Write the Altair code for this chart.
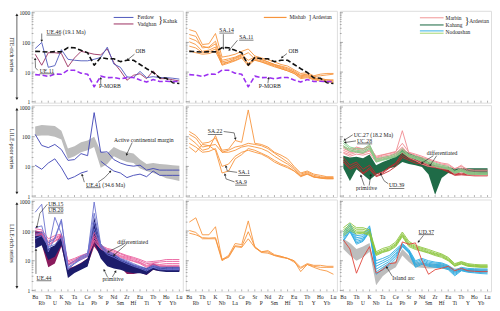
import math
import altair as alt
import pandas as pd

FONT = "Liberation Serif"
ELEMENTS = ["Ba", "Rb", "Th", "U", "K", "Nb", "Ta", "La", "Ce", "Pb", "Sr", "P",
            "Nd", "Sm", "Zr", "Hf", "Eu", "Ti", "Tb", "Y", "Ho", "Yb", "Lu"]
N = len(ELEMENTS)
ROW_TITLES = ["ITE-rich series", "LILE-poor series", "LILE-rich series"]
Y_TICK_LABELS = [1, 10, 100, 1000]

# ---------------- reference patterns ----------------
OIB = [50, 49, 47, 49, 48, 67, 66, 54, 45, 17, 31, 28, 28, 22.5, 25, 25, 18, 13, 9.7, 6.4, 6.2, 4.4, 4.1]
PMORB = [8.2, 7.9, 7.1, 8.6, 8.4, 11.6, 11.5, 9.2, 8.5, 3.2, 7.3, 6.5, 6.6, 5.9, 6.5, 6.6, 5.4, 4.6, 5.6, 4.8, 4.9, 4.8, 4.8]

# ---------------- row 1 : ITE-rich ----------------
FERDOW_UE46 = [62, 100, 14.5, 16.5, 57, 27, 25, 24, 24, 27, 31, 69, 18.7, 14.5, 6.9, 6.5, 10.5, 6.5, 7, 6.5, 6.5, 6.2, 5.8]
VADGHAN_UE11 = [40, 17, 45, 45, 42, 15, 30, 50, 45, 40, 38, 60, 21, 11, 5.3, 7.8, 8.8, 6, 11, 6, 6, 5.5, 5]
MISHAB_ITE = {
    "o1": [270, 230, 85, 90, 200, 32, 35, 40, 50, 60, 35, 30, 26, 22, 18, 16, 12, 9, 9.5, 7.5, 8.5, 9, 9],
    "o2": [185, 160, 65, 70, 110, 25, 28, 32, 40, 18, 30, 28, 22, 18, 16, 14, 11, 8, 8.5, 7, 7.5, 8, 8.5],
    "o3": [140, 115, 75, 65, 90, 20, 22, 28, 35, 45, 28, 24, 20, 17, 14, 12, 10, 7, 7.5, 6, 6, 5.5, 5.5],
    "o4": [105, 85, 50, 55, 70, 17, 20, 24, 30, 16, 26, 22, 18, 15, 13, 11, 9, 6.5, 7, 5.8, 5.5, 5, 5],
    "o5": [75, 65, 45, 48, 60, 22, 25, 30, 38, 25, 32, 26, 22, 18, 15, 13, 10, 7.5, 8, 6.5, 6, 5.5, 5],
    "o6": [52, 45, 40, 42, 50, 18, 22, 25, 32, 20, 25, 22, 19, 16, 13, 11, 9, 6, 6.5, 5.5, 5, 4.6, 4.5],
}

# ---------------- row 2 : LILE-poor ----------------
ACM_LO = [105, 110, 110, 100, 80, 18, 22, 30, 35, 45, 9, 12, 22, 17, 14, 13, 8.5, 7, 6, 5, 4, 3.6, 3.2]
ACM_HI = [220, 250, 240, 230, 160, 40, 48, 65, 75, 100, 32, 28, 45, 35, 30, 27, 17, 12, 13, 12, 11.5, 11, 10.5]
KAHAK_LP = {
    "upper": [120, 51, 43, 55, 37, 16, 17, 27, 23, 650, 30, 31, 17, 13, 11, 10.2, 11, 7.5, 8.5, 7.5, 7.5, 7.5, 7.5],
    "ue41": [11, 8, 13, 18, 9, 3.7, 4.5, 6, 7, None, 15, 10, 7, 6, 4.2, 5, 5.5, 4.5, 7, 5, 5, 5, 5],
}
MISHAB_LP = {
    "sa22": [150, 110, 60, 65, 90, 35, 38, 75, 65, 800, 60, 55, 45, 30, 24, 18, 10, 6, 7, 5.5, 5, 4.5, 4.5],
    "b": [120, 90, 45, 50, 55, 30, 35, 45, 50, 60, 55, 50, 40, 28, 20, 14, 9, 5.5, 6.5, 5, 4.5, 4.2, 4.2],
    "c": [90, 60, 35, 40, 110, 30, 30, 35, 45, 50, 45, 40, 32, 22, 16, 12, 8, 5, 6, 4.5, 4.2, 4, 4],
    "sa1": [60, 45, 30, 32, 40, 10, 12, 22, 30, 35, 30, 26, 20, 14, 11, 9, 7, 4.5, 5.5, 4.5, 4, 3.8, 3.8],
    "sa9": [45, 30, 55, 50, 35, 6, 7, 18, 25, 40, 35, 28, 22, 16, 12, 10, 7, 4.8, 5.5, 4.3, 4.1, 4, 3.9],
}
KAHANG_TOP = [23, 20, 21, 19, 25, 11, 14, 17, 22, 37, 29, 23, 20, 14, 11, 10, 9.5, 8.5, 8.7, 8.7, 8.7, 8.7, 8.7]
KAHANG_BOT = [8.7, 3.2, 8, 5.3, 3.5, 5.3, 6.8, 8.7, 9.8, 14, 12, 11, 9.5, 5.3, 1.1, 4.1, 6, 5.3, 6.8, 5.3, 5.3, 5.3, 5.3]
MARBIN_DIFF = {
    "m1": [45, 38, 42, 40, 45, 22, 25, 27, 30, 160, 28, 24, 20, 17, 14, 12, 11, 8, 11, 7, 7, 7, 7],
    "m2": [40, 32, 38, 35, 40, 19, 22, 24, 28, 45, 25, 21, 18, 15, 12, 11, 10, 6.5, 9, 6.5, 6.2, 6, 6],
    "m3": [35, 28, 33, 30, 35, 17, 20, 22, 26, 40, 23, 19, 16, 13, 11, 10, 9, 6, 8, 6, 5.8, 5.5, 5.5],
    "m4": [30, 25, 30, 27, 33, 16, 19, 20, 24, 38, 22, 18, 14, 11, 10, 9, 8.5, 6, 7.5, 5.5, 5.5, 5.2, 5.2],
    "m5": [50, 30, 45, 38, 50, 20, 24, 28, 32, 60, 30, 26, 22, 18, 15, 13, 12, 8.5, 10, 8, 7.5, 7.5, 7.5],
    "m6": [28, 22, 26, 24, 28, 14, 17, 19, 22, 30, 20, 16, 12, 10, 9.5, 8.5, 8, 5.5, 7, 5.2, 5, 5, 5],
}
MARBIN_PRIM = {
    "r1": [16, 9, 12, 6, 9, 4.8, 6, 8.7, 12, 23, 18, 15, 13, 11, 10, 8.5, 7, 5.3, 5.5, 5.3, 5, 5, 5],
    "r2": [20, 11, 14, 8, 11, 5.5, 6.5, 9.5, 13, 28, 20, 16, 14, 11.5, 10, 9, 7.5, 5.5, 6, 5.5, 5.2, 5.2, 5.2],
    "ud39": [14, 8, 10, 5.5, 8, 4.5, 5.5, 7, 10, 20, 16, 13, 12, 10, 9, 8, 6.5, 5, 5.2, 5, 4.8, 4.8, 4.8],
}
KAHANG_LINES = {
    "uc27": [70, 45, 40, 38, 55, 18, 20, 22, 27, 40, 25, 22, 19, 16, 13, 11, 10, 7, 8, 6.5, 6.2, 6, 6],
    "uc28": [60, 40, 35, 33, 48, 16, 18, 20, 24, 35, 23, 20, 17, 14, 12, 10, 9, 6.5, 7.5, 6, 6, 6, 6],
    "g3": [50, 36, 32, 30, 42, 15, 17, 19, 22, 32, 22, 19, 16, 13, 11, 9.5, 8.5, 6, 7, 5.8, 5.5, 5.5, 5.5],
    "g4": [45, 33, 30, 28, 38, 14, 16, 18, 21, 30, 21, 18, 15, 12, 10, 9, 8, 6, 6.8, 5.5, 5.5, 5.3, 5.3],
}

# ---------------- row 3 : LILE-rich ----------------
NAVY_LO = [26, 33, 10.7, 13.7, 33, 2.6, 3.9, 5, 6.4, 43, 12, 6.5, 5.5, 5, 4.2, 3.8, 3.8, 3.4, 5, 4.4, 4.2, 4.2, 4.2]
NAVY_HI = [105, 93, 26, 33, 81, 5, 6.4, 8.2, 12, 290, 38, 20, 18, 12, 9.4, 7.3, 6.4, 5.6, 8.2, 6.4, 6.4, 6.4, 6.4]
MAROON_LO = [40, 35, 6, 8, 30, 3.5, 4.5, 5.5, 7, 30, 15, 9, 8, 6, 3.6, 3.6, 4, 3.3, 5, 4.5, 4.5, 4.5, 4.5]
MAROON_HI = [90, 80, 14, 18, 60, 5.5, 6.5, 8.5, 12, 90, 30, 17, 14, 10, 7, 6, 6, 5, 7.5, 6, 6, 6, 6]
KAHAK_LR_PINK = {
    "p1": [120, 110, 55, 70, 80, 10, 12, 15, 18, 90, 33, 26, 23, 18, 15, 13, 11, 9, 9.5, 10, 11, 11, 11],
    "p2": [100, 95, 45, 60, 75, 9, 11, 14, 17, 70, 30, 24, 21, 17, 14, 12, 10, 8, 8.5, 9, 9.5, 9.5, 9.5],
    "p3": [85, 85, 40, 55, 70, 8, 10, 13, 16, 60, 28, 22, 19, 15, 13, 11, 9, 7, 8, 7.5, 8, 8, 8],
    "p4": [75, 80, 35, 48, 65, 7.5, 9.5, 12, 15, 50, 26, 20, 17, 14, 12, 10, 8.5, 6.5, 7.5, 7, 7, 7, 7],
    "p5": [70, 75, 33, 45, 62, 7, 9, 11, 14, 45, 25, 19, 16, 13, 11, 9.5, 8, 6, 7, 6.5, 6.5, 6.5, 6.5],
}
KAHAK_LR_BLUE = {
    "ub15": [430, 800, 20, 60, 250, 5, 8, 12, 15, 950, 35, 22, 17, 12, 10, 8, 6.5, 5.5, 7, 6, 6, 6, 6],
    "ub20": [130, 150, 25, 290, 80, 6, 8.5, 13, 16, 400, 33, 20, 16, 11, 9, 7.5, 6, 5, 6.5, 6, 5.5, 5.5, 5.5],
    "b3": [70, 95, 40, 55, 220, 7, 10, 14, 18, 200, 30, 18, 15, 11, 9, 7, 6, 5, 6, 5.5, 5, 5, 5],
    "b4": [55, 70, 30, 35, 60, 5.5, 8, 11, 14, 120, 28, 16, 13, 10, 8, 6.5, 5.5, 4.5, 6, 5, 5, 5, 5],
}
MISHAB_LR = {
    "l1": [200, 280, 75, 75, 140, 11, 15, 38, 35, 220, 28, 20, 22, 16, 14, 12, 10, 6, 8, 7, 7, 6.5, 6.5],
    "l2": [105, 90, 55, 55, 55, 10, 14, 32, 30, 95, 30, 20, 20, 15, 14, 12, 10, 4.3, 7.5, 6.5, 6, 6, 6],
    "l3": [85, 75, 60, 58, 60, 11, 13, 30, 28, 55, 28, 19, 18, 15, 13, 12, 9, 5.5, 7.5, 6, 5, 4.5, 3.5],
}
ISLAND_LO = [25, 15, 10, 13, 20, 1.5, 3, 4.5, 6, 15, 9, 6, 5.8, 5.5, 5.6, 5.6, 5, 4, 4.5, 4.3, 4.3, 4.2, 4.2]
ISLAND_HI = [55, 40, 25, 30, 40, 3.5, 6, 7.5, 10, 25, 15, 9, 8.5, 8, 8, 7.8, 7, 5.5, 5.6, 5.3, 5.3, 5.2, 5.2]
NOD_BLUE = {
    "nb1": [90, 180, 70, 75, 150, 10, 12, 15, 24, 38, 24, 10, 12, 10, 9, 8.5, 7, 4.8, 6, 5.5, 5.4, 5.3, 5.3],
    "nb2": [75, 150, 60, 65, 130, 8, 10, 13, 21, 36, 22, 9, 11, 9, 8.3, 8, 6.5, 4.4, 5.6, 5.1, 5, 4.9, 4.9],
    "nb3": [65, 125, 52, 58, 115, 6.5, 8.5, 11, 18, 34, 21, 8, 10, 8.2, 7.5, 7.3, 6, 4, 5.3, 4.8, 4.7, 4.6, 4.5],
    "nb4": [57, 110, 45, 52, 105, 5.2, 7, 9.5, 16, 32, 20, 7.2, 9, 7.5, 7, 6.8, 5.6, 3.7, 5, 4.5, 4.4, 4.3, 4.2],
    "nb5": [50, 100, 40, 48, 100, 4.2, 6, 8.3, 14, 31, 19, 6.5, 8.3, 7, 6.5, 6.3, 5.3, 3.4, 4.8, 4.3, 4.1, 4, 3.9],
    "nb6": [45, 95, 36, 45, 95, 3.5, 5, 7, 12, 30, 18, 6, 7.6, 6.5, 6, 5.8, 5, 3.1, 4.6, 4.1, 3.9, 3.7, 3.6],
}
NOD_GREEN = {
    "ng1": [130, 190, 130, 130, 110, 20, 26, 30, 43, 93, 45, 33, 28, 24, 20, 17, 13, 8, 9.4, 8, 7.5, 7.3, 7.3],
    "ng2": [110, 160, 115, 115, 95, 18, 23, 27, 38, 82, 40, 30, 26, 22, 18, 16, 12, 7.5, 9, 7.5, 7, 6.8, 6.8],
    "ng3": [95, 140, 100, 100, 85, 17, 21, 25, 35, 75, 36, 28, 24, 20, 17, 15, 11, 7, 8.5, 7, 6.7, 6.5, 6.5],
    "ng4": [82, 120, 90, 90, 78, 16, 20, 23, 33, 70, 33, 26, 22, 19, 16, 14, 10.5, 6.8, 8, 6.8, 6.5, 6.2, 6.2],
    "ng5": [70, 105, 80, 85, 72, 15, 19, 22, 30, 65, 30, 24, 21, 18, 15, 13, 10, 6.5, 7.8, 6.5, 6.2, 6, 6],
}
UD37 = [50, 25, 3.8, 13, 30, 3.8, 5, 8, 8.5, 43, 36, 40, 10, 3.5, 5, 5.6, 6.5, 4.6, 5.5, 4.6, 4.4, 4.3, 4.3]

# ---------------- annotations (element index, value) ----------------
ANN = {
    (0, 0): dict(
        texts=[(1.73, 223, "UE.46 (19.1 Ma)"), (0.68, 11.1, "UE.11"), (15.3, 50, "OIB"), (9.72, 3.35, "P-MORB")],
        ul=[(1.73, 3.95, 177), (0.68, 2.9, 8.8)],
        arrows=[[(1.0, 200), (1.0, 112)], [(0.4, 11.5), (0.05, 14), (0.0, 28)],
                [(15.15, 40), (14.1, 26)], [(10.0, 3.9), (10.0, 6.3)]]),
    (0, 1): dict(
        texts=[(4.59, 259, "SA.14"), (7.61, 150, "SA.11"), (15.14, 51, "OIB"), (10.62, 3.27, "P-MORB")],
        ul=[(4.59, 6.8, 206), (7.61, 9.8, 119)],
        arrows=[[(5.2, 190), (5.2, 62)], [(7.35, 118), (6.1, 55)],
                [(14.9, 42), (14.13, 31)], [(12.0, 4.2), (12.1, 6.3)]]),
    (0, 2): dict(texts=[], ul=[], arrows=[]),
    (1, 0): dict(
        texts=[(12.03, 80, "Active continental margin"), (7.76, 2.42, "UE.41 (34.6 Ma)")],
        ul=[(7.76, 10.0, 1.92)],
        arrows=[[(14.8, 64), (13.94, 25)], [(7.5, 2.94), (7.16, 5.25)],
                [(9.6, 2.94), (10.6, 4.2), (11.5, 6.8)]]),
    (1, 1): dict(
        texts=[(2.83, 150, "SA.22"), (7.46, 6.24, "SA.1"), (7.0, 2.94, "SA.9")],
        ul=[(2.83, 5.05, 119), (7.46, 9.24, 4.95), (7.0, 8.78, 2.33)],
        arrows=[[(5.25, 150), (6.85, 135), (7.05, 85)], [(7.3, 6.3), (5.8, 7.0), (5.6, 10)],
                [(6.9, 3.0), (5.6, 3.8), (5.45, 5.4)]]),
    (1, 2): dict(
        texts=[(1.58, 116, "UC.27 (18.2 Ma)"), (2.08, 72.5, "UC.28"), (12.73, 27.9, "differentiated"),
               (1.93, 1.8, "primitive"), (6.96, 2.27, "UD.39")],
        ul=[(2.08, 4.4, 57.6), (6.96, 9.3, 1.8)],
        arrows=[[(1.43, 116), (0.18, 78)], [(1.93, 72.5), (0.27, 64)],
                [(13.74, 23), (11.98, 13)], [(14.24, 23), (13.23, 10.8)],
                [(3.19, 2.27), (2.68, 4.87)], [(3.94, 2.27), (4.19, 5.2)],
                [(6.85, 2.6), (6.2, 3.3), (5.69, 5.6)]]),
    (2, 0): dict(
        texts=[(1.99, 798, "UB.15"), (1.99, 509, "UB.20"), (0.22, 2.67, "UE.44"),
               (12.53, 43.8, "differentiated"), (10.27, 2.35, "primitive")],
        ul=[(1.99, 4.3, 635), (1.99, 4.3, 405), (0.22, 2.48, 2.12)],
        arrows=[[(1.85, 800), (0.72, 397), (0.25, 135)], [(0.12, 3.6), (0.12, 23.5)],
                [(13.53, 36.9), (11.12, 19.8)], [(13.94, 36.9), (12.02, 15.4)],
                [(11.03, 2.82), (10.52, 4.9)], [(11.78, 2.82), (12.28, 4.4)]]),
    (2, 1): dict(texts=[], ul=[], arrows=[]),
    (2, 2): dict(
        texts=[(11.48, 95.5, "UD.37"), (7.46, 2.67, "Island arc")],
        ul=[(11.48, 13.83, 76)],
        arrows=[[(12.23, 72), (11.72, 52), (11.45, 43)], [(7.46, 3.03), (6.6, 6.1)]]),
}

# ---------------- geometry / scales ----------------
W, H = 153, 93
XDOM = [-0.53, 22.53]
YDOM = [0.93, 1160]
PX_X = W / (XDOM[1] - XDOM[0])
PX_DEC = H / math.log10(YDOM[1] / YDOM[0])

XS = alt.Scale(domain=XDOM, nice=False, zero=False)
YS = alt.Scale(type="log", domain=YDOM, nice=False)
YAX = alt.Axis(values=Y_TICK_LABELS, format="d", ticks=False, domain=False, grid=False,
               labelFont=FONT, labelFontSize=5.5, labelPadding=2, labelColor="#222", title=None)

ONE = pd.DataFrame({"a": [0]})
ELEM_DF = pd.DataFrame({"i": list(range(N)), "e": ELEMENTS})
INK = "#222222"


def X(f="i"):
    return alt.X(f"{f}:Q", scale=XS, axis=None)


def Y(f, col):
    return alt.Y(f"{f}:Q", scale=YS, axis=YAX if col == 0 else None)


def line_layer(series, color, col, width=0.9, dash=None):
    rows = []
    for sid, vals in series.items():
        seg = 0
        for i, v in enumerate(vals):
            if v is None:
                seg += 1
                continue
            rows.append({"sid": f"{sid}_{seg}", "i": i, "v": v})
    kw = dict(color=color, strokeWidth=width, strokeJoin="round")
    if dash:
        kw["strokeDash"] = dash
    return alt.Chart(pd.DataFrame(rows)).mark_line(**kw).encode(
        x=X(), y=Y("v", col), detail="sid:N", order="i:Q")


def band_layer(lo, hi, color, col):
    df = pd.DataFrame({"i": list(range(N)), "lo": lo, "hi": hi})
    return alt.Chart(df).mark_area(color=color, opacity=1, interpolate="linear").encode(
        x=X(), y=Y("lo", col), y2=alt.Y2("hi"))


def annotation_layers(ann, col):
    out = []
    if ann["texts"]:
        df = pd.DataFrame(ann["texts"], columns=["i", "v", "t"])
        out.append(alt.Chart(df).mark_text(align="left", baseline="middle", font=FONT, fontSize=5.8,
                                           color=INK).encode(x=X(), y=Y("v", col), text="t:N"))
    if ann["ul"]:
        df = pd.DataFrame(ann["ul"], columns=["i", "i2", "v"])
        out.append(alt.Chart(df).mark_rule(color=INK, strokeWidth=0.6).encode(
            x=X(), x2=alt.X2("i2"), y=Y("v", col)))
    if ann["arrows"]:
        rows, heads = [], []
        for a, pts in enumerate(ann["arrows"]):
            for k, (i, v) in enumerate(pts):
                rows.append({"aid": a, "k": k, "i": i, "v": v})
            (i0, v0), (i1, v1) = pts[-2], pts[-1]
            dx = (i1 - i0) * PX_X
            dy = -(math.log10(v1) - math.log10(v0)) * PX_DEC
            ang = math.degrees(math.atan2(dx, -dy)) % 360
            heads.append({"i": i1, "v": v1, "ang": ang})
        out.append(alt.Chart(pd.DataFrame(rows)).mark_line(color=INK, strokeWidth=0.6).encode(
            x=X(), y=Y("v", col), detail="aid:N", order="k:Q"))
        out.append(alt.Chart(pd.DataFrame(heads)).mark_point(
            shape="triangle-up", filled=True, size=7, color=INK, opacity=1).encode(
            x=X(), y=Y("v", col), angle=alt.Angle("ang:Q", scale=None)))
    return out


def tick_layers(col):
    major = pd.DataFrame({"t": Y_TICK_LABELS})
    minor = pd.DataFrame({"t": [m * 10 ** e for e in range(3) for m in range(2, 10)]})
    return [
        alt.Chart(major).mark_rule(color="#666", strokeWidth=0.6).encode(
            y=Y("t", col), x=alt.value(0), x2=alt.value(3)),
        alt.Chart(minor).mark_rule(color="#666", strokeWidth=0.5).encode(
            y=Y("t", col), x=alt.value(0), x2=alt.value(1.8)),
        alt.Chart(ELEM_DF).mark_rule(color="#666", strokeWidth=0.5).encode(
            x=X(), y=alt.value(H), y2=alt.value(H - 2)),
    ]


def row_title_layers(name):
    df = pd.DataFrame({"t": [name]})
    return [
        alt.Chart(df).mark_text(angle=90, font=FONT, fontSize=6, color=INK, align="center",
                                baseline="middle").encode(text="t:N", x=alt.value(-20), y=alt.value(H / 2 - 2)),
        alt.Chart(df).mark_rule(color=INK, strokeWidth=0.7).encode(
            x=alt.value(-15), y=alt.value(4), y2=alt.value(H - 4)),
        alt.Chart(df).mark_point(shape="triangle-up", filled=True, size=9, color=INK, opacity=1).encode(
            x=alt.value(-15), y=alt.value(4)),
        alt.Chart(df).mark_point(shape="triangle-down", filled=True, size=9, color=INK, opacity=1).encode(
            x=alt.value(-15), y=alt.value(H - 4)),
    ]


def xlabel_layers():
    even = ELEM_DF[ELEM_DF.i % 2 == 0]
    odd = ELEM_DF[ELEM_DF.i % 2 == 1]
    return [
        alt.Chart(even).mark_text(font=FONT, fontSize=5.5, color=INK, baseline="middle").encode(
            x=X(), y=alt.value(H + 6), text="e:N"),
        alt.Chart(odd).mark_text(font=FONT, fontSize=5.5, color=INK, baseline="middle").encode(
            x=X(), y=alt.value(H + 12), text="e:N"),
    ]


def lg_line(x1, x2, y, color, w=1.0):
    return alt.Chart(ONE).mark_rule(color=color, strokeWidth=w).encode(
        x=alt.value(x1), x2=alt.value(x2), y=alt.value(y))


def lg_text(x, y, t, size=5.5):
    return alt.Chart(ONE).mark_text(font=FONT, fontSize=size, color=INK, align="left",
                                    baseline="middle").encode(x=alt.value(x), y=alt.value(y), text=alt.value(t))


C_FERDOW, C_VADGHAN = "#4d57bb", "#9b2e5f"
C_OIB, C_PMORB = "#111111", "#9b30f0"
C_MISHAB = "#f7943c"
C_GREY = "#bdbdbd"
C_KAHAK_LP = "#3c42b4"
C_MARBIN, C_MARBIN_DARK = "#f08a90", "#c1272d"
C_KAHANG, C_KAHANG_LIGHT = "#1f6b47", "#7fcf86"
C_NAVY, C_MAROON, C_PINK, C_BLUE3 = "#1c1c6b", "#8a1b5c", "#ea5c9c", "#6b72cf"
C_NOD_BLUE, C_NOD_GREEN, C_UD37 = "#2baae2", "#8dc63f", "#e0443a"
DASH = [5, 2.5]

content = {
    (0, 0): [
        line_layer({"ue11": VADGHAN_UE11}, C_VADGHAN, 0),
        line_layer({"ue46": FERDOW_UE46}, C_FERDOW, 0),
        line_layer({"oib": OIB}, C_OIB, 0, 1.6, DASH),
        line_layer({"pm": PMORB}, C_PMORB, 0, 1.6, DASH),
        lg_line(83, 103, 6.7, C_FERDOW), lg_line(83, 103, 13.3, C_VADGHAN),
        lg_text(107, 6.7, "Ferdow"), lg_text(107, 13.3, "Vadghan"),
        lg_text(128, 9.5, "}", 10), lg_text(133, 10, "Kahak"),
    ],
    (0, 1): [
        line_layer(MISHAB_ITE, C_MISHAB, 1),
        line_layer({"oib": OIB}, C_OIB, 1, 1.6, DASH),
        line_layer({"pm": PMORB}, C_PMORB, 1, 1.6, DASH),
        lg_line(79, 102, 6.7, C_MISHAB, 1.2), lg_text(105, 6.7, "Mishab"),
        lg_text(124.5, 6.4, "]", 7), lg_text(128, 6.7, "Ardestan"),
    ],
    (0, 2): [
        lg_line(81, 105, 7, "#f4a6a6", 1.2), lg_line(81, 105, 14.3, "#3a7d5c", 1.2),
        lg_line(81, 105, 20.3, "#55bde9", 1.2), lg_line(81, 105, 22.7, "#b4dc86", 1.2),
        lg_text(107, 7, "Marbin"), lg_text(107, 14.3, "Kahang"), lg_text(107, 21.5, "Nodoushan"),
        lg_text(126.5, 10.2, "}", 10), lg_text(131, 10.7, "Ardestan"),
    ],
    (1, 0): [
        band_layer(ACM_LO, ACM_HI, C_GREY, 0),
        line_layer(KAHAK_LP, C_KAHAK_LP, 0),
    ],
    (1, 1): [line_layer(MISHAB_LP, C_MISHAB, 1)],
    (1, 2): [
        band_layer(KAHANG_BOT, KAHANG_TOP, C_KAHANG, 2),
        line_layer(MARBIN_PRIM, C_MARBIN_DARK, 2),
        line_layer(MARBIN_DIFF, C_MARBIN, 2),
        line_layer(KAHANG_LINES, C_KAHANG_LIGHT, 2),
    ],
    (2, 0): [
        band_layer(MAROON_LO, MAROON_HI, C_MAROON, 0),
        band_layer(NAVY_LO, NAVY_HI, C_NAVY, 0),
        line_layer(KAHAK_LR_PINK, C_PINK, 0),
        line_layer(KAHAK_LR_BLUE, C_BLUE3, 0),
    ],
    (2, 1): [line_layer(MISHAB_LR, C_MISHAB, 1)],
    (2, 2): [
        band_layer(ISLAND_LO, ISLAND_HI, C_GREY, 2),
        line_layer(NOD_BLUE, C_NOD_BLUE, 2),
        line_layer(NOD_GREEN, C_NOD_GREEN, 2),
        line_layer({"ud37": UD37}, C_UD37, 2),
    ],
}

panels = []
for r in range(3):
    for c in range(3):
        layers = tick_layers(c) + content[(r, c)] + annotation_layers(ANN[(r, c)], c)
        if c == 0:
            layers += row_title_layers(ROW_TITLES[r])
        if r == 2:
            layers += xlabel_layers()
        panels.append(alt.layer(*layers).properties(width=W, height=H))

chart = alt.concat(*panels, columns=3, spacing={"row": 2.5, "column": 3}).properties(
    bounds="flush", padding=0
).configure_view(stroke="#a3a3a3", strokeWidth=1.3).configure(font=FONT)

chart.save("out.html", embed_options={"renderer": "svg", "actions": False})
